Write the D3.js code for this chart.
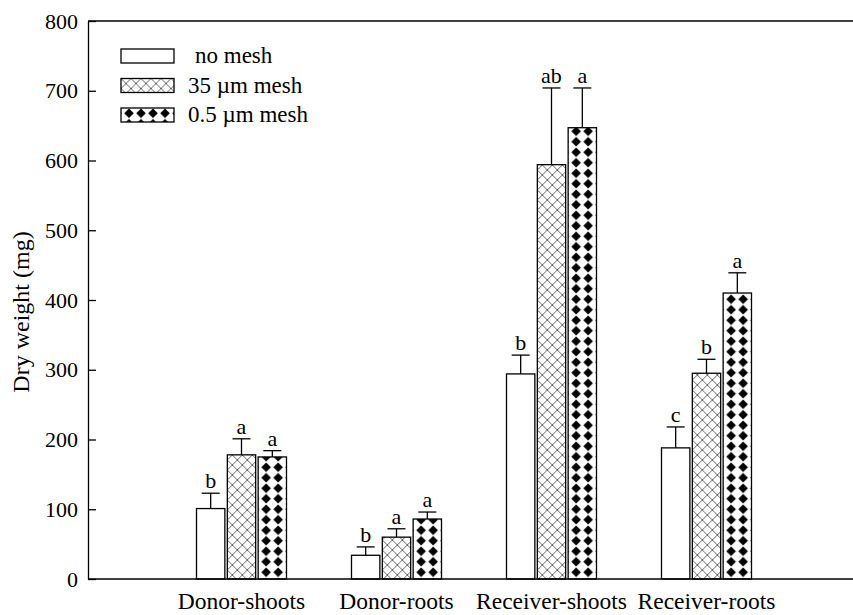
<!DOCTYPE html>
<html>
<head>
<meta charset="utf-8">
<script src="https://cdn.jsdelivr.net/npm/d3@7"></script>
<style>
  html, body { margin: 0; padding: 0; background: #fff; }
  svg { display: block; font-family: "Liberation Serif", "Times New Roman", serif; }
</style>
</head>
<body>
<svg id="chart" width="853" height="615"></svg>
<script>
/* ── Data ─────────────────────────────────────────────── */
const categories = ['Donor-shoots', 'Donor-roots', 'Receiver-shoots', 'Receiver-roots'];
const series     = ['no mesh', '35 µm mesh', '0.5 µm mesh'];
const fills      = ['none', 'cross', 'diamond'];

// rows follow categories, columns follow series
const means   = [[101, 178, 175], [34, 60, 86], [294, 594, 647], [188, 295, 410]];
const errors  = [[22, 23, 9],     [12, 12, 10], [27, 110, 57],  [30, 20, 29]];
const letters = [['b', 'a', 'a'], ['b', 'a', 'a'], ['b', 'ab', 'a'], ['c', 'b', 'a']];

const yTicks = [0, 100, 200, 300, 400, 500, 600, 700, 800];

/* ── Layout ───────────────────────────────────────────── */
const svg = d3.select('#chart');
const L = 88, R = 853, T = 21, B = 579;

const y  = d3.scaleLinear().domain([0, 800]).range([B, T]);
const x0 = d3.scaleBand().domain(categories).range([164, 784]);
const x1 = d3.scaleBand().domain(series).range([0, 90]).paddingInner(0.08);

/* ── Patterns ─────────────────────────────────────────── */
const defs = svg.append('defs');

const pc = defs.append('pattern')
  .attr('id', 'cross').attr('patternUnits', 'userSpaceOnUse')
  .attr('width', 10).attr('height', 10).attr('x', 0).attr('y', 0);
pc.append('rect').attr('width', 10).attr('height', 10).attr('fill', '#fff');
pc.append('path')
  .attr('d', 'M0,0L10,10M10,0L0,10')
  .attr('stroke', '#444').attr('stroke-width', 0.8).attr('fill', 'none');

const pd = defs.append('pattern')
  .attr('id', 'diamond').attr('patternUnits', 'userSpaceOnUse')
  .attr('width', 12).attr('height', 10.5).attr('x', 2).attr('y', 0);
pd.append('rect').attr('width', 12).attr('height', 10.5).attr('fill', '#fff');
pd.append('path')
  .attr('d', 'M6,0.4L10.8,5.25L6,10.1L1.2,5.25Z')
  .attr('fill', '#000');

const fillOf = f => f === 'none' ? '#fff' : `url(#${f})`;

/* ── Bars, error bars, letters ───────────────────────── */
const groups = svg.append('g').selectAll('g')
  .data(categories).join('g')
  .attr('transform', c => `translate(${x0(c) + x0.bandwidth() / 2 - 45},0)`);

const bw = x1.bandwidth();

groups.each(function (c, ci) {
  const g = d3.select(this);
  series.forEach((s, si) => {
    const v = means[ci][si], e = errors[ci][si];
    const bar = g.append('g').attr('transform', `translate(${x1(s)},0)`);
    bar.append('rect')
      .attr('x', 0).attr('y', y(v))
      .attr('width', bw).attr('height', y(0) - y(v))
      .attr('fill', fillOf(fills[si]))
      .attr('stroke', '#000').attr('stroke-width', 1.3);
    const cx = bw / 2;
    bar.append('line')
      .attr('x1', cx).attr('x2', cx).attr('y1', y(v)).attr('y2', y(v + e))
      .attr('stroke', '#000').attr('stroke-width', 1.3);
    bar.append('line')
      .attr('x1', cx - 9).attr('x2', cx + 9).attr('y1', y(v + e)).attr('y2', y(v + e))
      .attr('stroke', '#000').attr('stroke-width', 1.3);
    bar.append('text')
      .attr('x', cx).attr('y', y(v + e) - 5)
      .attr('text-anchor', 'middle')
      .style('font-size', '22px')
      .text(letters[ci][si]);
  });
});

/* ── Axes / frame ─────────────────────────────────────── */
const yAxis = svg.append('g')
  .attr('transform', `translate(${L},0)`)
  .call(d3.axisLeft(y).tickValues(yTicks).tickSizeInner(-8).tickSizeOuter(0).tickPadding(10));
yAxis.select('.domain').attr('stroke', '#000').attr('stroke-width', 1.3);
yAxis.selectAll('.tick line').attr('stroke', '#000').attr('stroke-width', 1.3);
yAxis.selectAll('.tick text')
  .style('font-family', '"Liberation Serif", serif')
  .style('font-size', '22px').attr('fill', '#000');

svg.append('line').attr('x1', L).attr('x2', R).attr('y1', B).attr('y2', B)
  .attr('stroke', '#000').attr('stroke-width', 1.3);
svg.append('line').attr('x1', L).attr('x2', R).attr('y1', T).attr('y2', T)
  .attr('stroke', '#000').attr('stroke-width', 1.3);

svg.append('g').selectAll('text')
  .data(categories).join('text')
  .attr('x', c => x0(c) + x0.bandwidth() / 2)
  .attr('y', 609)
  .attr('text-anchor', 'middle')
  .style('font-size', '23.5px')
  .text(c => c);

svg.append('text')
  .attr('transform', 'translate(29,312) rotate(-90)')
  .attr('text-anchor', 'middle')
  .style('font-size', '24px')
  .text('Dry weight (mg)');

/* ── Legend ───────────────────────────────────────────── */
const leg = svg.append('g').selectAll('g')
  .data(series).join('g')
  .attr('transform', (s, i) => `translate(121,${49 + i * 29.5})`);
leg.append('rect')
  .attr('width', 53).attr('height', 14)
  .attr('fill', (s, i) => fillOf(fills[i]))
  .attr('stroke', '#000').attr('stroke-width', 1.3);
leg.append('text')
  .attr('x', (s, i) => i === 0 ? 74 : 67).attr('y', 14)
  .style('font-size', '23px')
  .text(s => s);
</script>
</body>
</html>
